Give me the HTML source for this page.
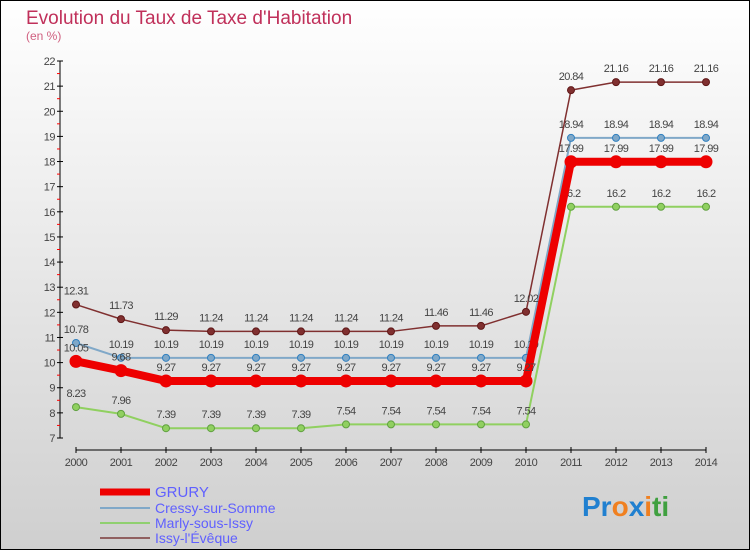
<!DOCTYPE html>
<html><head><meta charset="utf-8"><style>
body{margin:0;width:750px;height:550px;overflow:hidden;font-family:"Liberation Sans",sans-serif}
</style></head><body>
<svg id="c" width="750" height="550" xmlns="http://www.w3.org/2000/svg">
<defs><linearGradient id="bg" x1="0" y1="0" x2="0" y2="1"><stop offset="0" stop-color="#ffffff"/><stop offset="1" stop-color="#cfcfcf"/></linearGradient></defs>
<rect x="0.5" y="0.5" width="749" height="549" fill="url(#bg)" stroke="#000"/>
<text x="26" y="24" font-size="19" fill="#c0305a">Evolution du Taux de Taxe d'Habitation</text>
<text x="26" y="40" font-size="12" fill="#d06080">(en %)</text>
<g id="axes"></g><g id="series"></g>
<g>
<line x1="100" y1="492" x2="150" y2="492" stroke="#ee0000" stroke-width="7"/>
<text x="155" y="497" font-size="15" fill="#6060ff">GRURY</text>
<line x1="100" y1="508" x2="150" y2="508" stroke="#80a8c8" stroke-width="2"/>
<text x="155" y="513" font-size="14" fill="#6060ff">Cressy-sur-Somme</text>
<line x1="100" y1="523" x2="150" y2="523" stroke="#90d070" stroke-width="2"/>
<text x="155" y="528" font-size="14" fill="#6060ff">Marly-sous-Issy</text>
<line x1="100" y1="538" x2="150" y2="538" stroke="#906060" stroke-width="2"/>
<text x="155" y="543" font-size="14" fill="#6060ff">Issy-l'Évêque</text>
</g>
<text x="582" y="516" font-size="28" font-weight="bold"><tspan fill="#2080d0">Pr</tspan><tspan fill="#f08020">o</tspan><tspan fill="#2080d0">x</tspan><tspan fill="#f08020">i</tspan><tspan fill="#40a040">ti</tspan></text>
</svg>
<script>
const years=[2000,2001,2002,2003,2004,2005,2006,2007,2008,2009,2010,2011,2012,2013,2014];
const yTicks=[7,8,9,10,11,12,13,14,15,16,17,18,19,20,21,22];
const grury=[10.05,9.68,9.27,9.27,9.27,9.27,9.27,9.27,9.27,9.27,9.27,17.99,17.99,17.99,17.99];
const cressy=[10.78,10.19,10.19,10.19,10.19,10.19,10.19,10.19,10.19,10.19,10.19,18.94,18.94,18.94,18.94];
const marly=[8.23,7.96,7.39,7.39,7.39,7.39,7.54,7.54,7.54,7.54,7.54,16.2,16.2,16.2,16.2];
const issy=[12.31,11.73,11.29,11.24,11.24,11.24,11.24,11.24,11.46,11.46,12.02,20.84,21.16,21.16,21.16];
const NS="http://www.w3.org/2000/svg";
const xs=i=>76+i*45, ys=v=>438-(v-7)*(377/15);
function mk(t,a,p){const e=document.createElementNS(NS,t);for(const k in a)e.setAttribute(k,a[k]);p.appendChild(e);return e;}
const ax=document.getElementById('axes');
const yl=mk('line',{x1:60,y1:ys(22),x2:60,y2:ys(7),stroke:'#000','stroke-width':1},ax);


yTicks.forEach(v=>{
 mk('line',{x1:57,y1:ys(v),x2:63,y2:ys(v),stroke:'#000'},ax);
 if(v<22)mk('line',{x1:57,y1:ys(v+0.5),x2:60,y2:ys(v+0.5),stroke:'#f00'},ax);
 const t=mk('text',{x:55,y:ys(v)+4,'text-anchor':'end','font-size':11,fill:'#444','letter-spacing':'-0.5'},ax);t.textContent=v;
 
 
});
const xl=mk('line',{x1:76,y1:450,x2:706,y2:450,stroke:'#000'},ax);


years.forEach((y,i)=>{
 mk('line',{x1:xs(i),y1:447,x2:xs(i),y2:453,stroke:'#000'},ax);
 const t=mk('text',{x:xs(i),y:466,'text-anchor':'middle','font-size':11,fill:'#444','letter-spacing':'-0.5'},ax);t.textContent=y;
 
 
});
const sg=document.getElementById('series');
function draw(vals,name,color,w,dot,dotStroke){
 const g=mk('g',{},sg);
 
 
 mk('polyline',{points:vals.map((v,i)=>xs(i)+','+ys(v)).join(' '),fill:'none',stroke:color,'stroke-width':w,'stroke-linejoin':'round'},g);
 vals.forEach((v,i)=>{
  const c=mk('circle',{cx:xs(i),cy:ys(v),r:dot,fill:color,stroke:dotStroke,'stroke-width':1},g);
  
  
  const t=mk('text',{x:xs(i),y:ys(v)-10,'text-anchor':'middle','font-size':11,fill:'#444','letter-spacing':'-0.6'},g);t.textContent=v;
  
  
 });
}
draw(marly,'marly','#90d060',2,3.5,'#60a040');
draw(cressy,'cressy','#80a8c8',2,3.5,'#3080c0');
draw(issy,'issy','#803030',1.5,3.5,'#601818');
draw(grury,'grury','#ee0000',8,6,'#ee0000');
</script>
</body></html>
